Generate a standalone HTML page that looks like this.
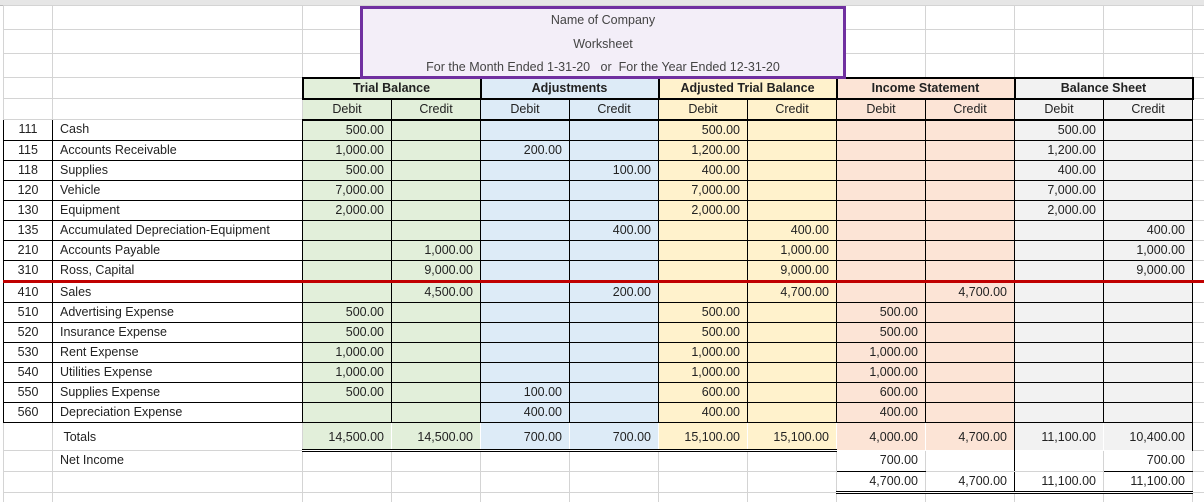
<!DOCTYPE html>
<html><head><meta charset="utf-8">
<style>
html,body{margin:0;padding:0;background:#fff;width:1204px;height:502px;overflow:hidden}
body{font-family:"Liberation Sans",sans-serif;font-size:12.5px;color:#222;position:relative}
#top{position:absolute;left:0;top:0;width:1204px;height:5px;background:#e6e6e6;border-bottom:1px solid #bbb}
table{position:absolute;left:3px;top:5px;border-collapse:collapse;table-layout:fixed;width:1210px}
td{border:1px solid #d4d4d4;padding:0 7px;white-space:nowrap;overflow:hidden;height:19px;line-height:19px}
td.b{border:1px solid #000}
td.n{text-align:right}
td.c{text-align:center}
.g{background:#e2efda}.bl{background:#ddebf7}.y{background:#fff2cc}.s{background:#fce4d6}.gr{background:#f2f2f2}
.h{font-weight:bold;text-align:center;border:2px solid #000 !important}
.hs{text-align:center;border:1px solid #000;border-bottom:2px solid #000 !important}
tr.red td{border-bottom:3px solid #c00000 !important}
.nb{border-color:transparent !important}
.dbl{border-bottom:3px double #000 !important}
#box{position:absolute;left:360px;top:6px;width:480px;height:67px;border:3px solid #7030a0;background:#f3eef8;color:#444;font-size:12.5px;text-align:center}
#box div{height:23.5px;line-height:22px}
</style></head><body>
<div id="top"></div>
<table>
<colgroup><col style="width:49px"><col style="width:250px"><col style="width:89px"><col style="width:89px"><col style="width:89px"><col style="width:89px"><col style="width:89px"><col style="width:89px"><col style="width:89px"><col style="width:89px"><col style="width:89px"><col style="width:89px"><col style="width:21px"></colgroup>
<tr style="height:24px"><td></td><td></td><td></td><td></td><td></td><td></td><td></td><td></td><td></td><td></td><td></td><td></td><td></td></tr>
<tr style="height:24px"><td></td><td></td><td></td><td></td><td></td><td></td><td></td><td></td><td></td><td></td><td></td><td></td><td></td></tr>
<tr style="height:24px"><td></td><td></td><td></td><td></td><td></td><td></td><td></td><td></td><td></td><td></td><td></td><td></td><td></td></tr>
<tr style="height:20px"><td></td><td></td><td colspan="2" class="h g">Trial Balance</td><td colspan="2" class="h bl">Adjustments</td><td colspan="2" class="h y">Adjusted Trial Balance</td><td colspan="2" class="h s">Income Statement</td><td colspan="2" class="h gr">Balance Sheet</td><td></td></tr>
<tr style="height:21px"><td></td><td></td><td class="hs g">Debit</td><td class="hs g">Credit</td><td class="hs bl">Debit</td><td class="hs bl">Credit</td><td class="hs y">Debit</td><td class="hs y">Credit</td><td class="hs s">Debit</td><td class="hs s">Credit</td><td class="hs gr">Debit</td><td class="hs gr">Credit</td><td></td></tr>
<tr><td class="b c">111</td><td class="b">Cash</td><td class="b n g">500.00</td><td class="b g"></td><td class="b bl"></td><td class="b bl"></td><td class="b n y">500.00</td><td class="b y"></td><td class="b s"></td><td class="b s"></td><td class="b n gr">500.00</td><td class="b gr"></td><td></td></tr>
<tr><td class="b c">115</td><td class="b">Accounts Receivable</td><td class="b n g">1,000.00</td><td class="b g"></td><td class="b n bl">200.00</td><td class="b bl"></td><td class="b n y">1,200.00</td><td class="b y"></td><td class="b s"></td><td class="b s"></td><td class="b n gr">1,200.00</td><td class="b gr"></td><td></td></tr>
<tr><td class="b c">118</td><td class="b">Supplies</td><td class="b n g">500.00</td><td class="b g"></td><td class="b bl"></td><td class="b n bl">100.00</td><td class="b n y">400.00</td><td class="b y"></td><td class="b s"></td><td class="b s"></td><td class="b n gr">400.00</td><td class="b gr"></td><td></td></tr>
<tr><td class="b c">120</td><td class="b">Vehicle</td><td class="b n g">7,000.00</td><td class="b g"></td><td class="b bl"></td><td class="b bl"></td><td class="b n y">7,000.00</td><td class="b y"></td><td class="b s"></td><td class="b s"></td><td class="b n gr">7,000.00</td><td class="b gr"></td><td></td></tr>
<tr><td class="b c">130</td><td class="b">Equipment</td><td class="b n g">2,000.00</td><td class="b g"></td><td class="b bl"></td><td class="b bl"></td><td class="b n y">2,000.00</td><td class="b y"></td><td class="b s"></td><td class="b s"></td><td class="b n gr">2,000.00</td><td class="b gr"></td><td></td></tr>
<tr><td class="b c">135</td><td class="b">Accumulated Depreciation-Equipment</td><td class="b g"></td><td class="b g"></td><td class="b bl"></td><td class="b n bl">400.00</td><td class="b y"></td><td class="b n y">400.00</td><td class="b s"></td><td class="b s"></td><td class="b gr"></td><td class="b n gr">400.00</td><td></td></tr>
<tr><td class="b c">210</td><td class="b">Accounts Payable</td><td class="b g"></td><td class="b n g">1,000.00</td><td class="b bl"></td><td class="b bl"></td><td class="b y"></td><td class="b n y">1,000.00</td><td class="b s"></td><td class="b s"></td><td class="b gr"></td><td class="b n gr">1,000.00</td><td></td></tr>
<tr class="red"><td class="b c">310</td><td class="b">Ross, Capital</td><td class="b g"></td><td class="b n g">9,000.00</td><td class="b bl"></td><td class="b bl"></td><td class="b y"></td><td class="b n y">9,000.00</td><td class="b s"></td><td class="b s"></td><td class="b gr"></td><td class="b n gr">9,000.00</td><td></td></tr>
<tr><td class="b c">410</td><td class="b">Sales</td><td class="b g"></td><td class="b n g">4,500.00</td><td class="b bl"></td><td class="b n bl">200.00</td><td class="b y"></td><td class="b n y">4,700.00</td><td class="b s"></td><td class="b n s">4,700.00</td><td class="b gr"></td><td class="b gr"></td><td></td></tr>
<tr><td class="b c">510</td><td class="b">Advertising Expense</td><td class="b n g">500.00</td><td class="b g"></td><td class="b bl"></td><td class="b bl"></td><td class="b n y">500.00</td><td class="b y"></td><td class="b n s">500.00</td><td class="b s"></td><td class="b gr"></td><td class="b gr"></td><td></td></tr>
<tr><td class="b c">520</td><td class="b">Insurance Expense</td><td class="b n g">500.00</td><td class="b g"></td><td class="b bl"></td><td class="b bl"></td><td class="b n y">500.00</td><td class="b y"></td><td class="b n s">500.00</td><td class="b s"></td><td class="b gr"></td><td class="b gr"></td><td></td></tr>
<tr><td class="b c">530</td><td class="b">Rent Expense</td><td class="b n g">1,000.00</td><td class="b g"></td><td class="b bl"></td><td class="b bl"></td><td class="b n y">1,000.00</td><td class="b y"></td><td class="b n s">1,000.00</td><td class="b s"></td><td class="b gr"></td><td class="b gr"></td><td></td></tr>
<tr><td class="b c">540</td><td class="b">Utilities Expense</td><td class="b n g">1,000.00</td><td class="b g"></td><td class="b bl"></td><td class="b bl"></td><td class="b n y">1,000.00</td><td class="b y"></td><td class="b n s">1,000.00</td><td class="b s"></td><td class="b gr"></td><td class="b gr"></td><td></td></tr>
<tr><td class="b c">550</td><td class="b">Supplies Expense</td><td class="b n g">500.00</td><td class="b g"></td><td class="b n bl">100.00</td><td class="b bl"></td><td class="b n y">600.00</td><td class="b y"></td><td class="b n s">600.00</td><td class="b s"></td><td class="b gr"></td><td class="b gr"></td><td></td></tr>
<tr><td class="b c">560</td><td class="b">Depreciation Expense</td><td class="b g"></td><td class="b g"></td><td class="b n bl">400.00</td><td class="b bl"></td><td class="b n y">400.00</td><td class="b y"></td><td class="b n s">400.00</td><td class="b s"></td><td class="b gr"></td><td class="b gr"></td><td></td></tr>
<tr style="height:28px"><td></td><td style="padding-top:3px">&nbsp;Totals</td><td class="n g nb dbl" style="padding-top:3px">14,500.00</td><td class="n g nb dbl" style="padding-top:3px">14,500.00</td><td class="n bl nb dbl" style="padding-top:3px">700.00</td><td class="n bl nb dbl" style="padding-top:3px">700.00</td><td class="n y nb dbl" style="padding-top:3px">15,100.00</td><td class="n y nb dbl" style="padding-top:3px">15,100.00</td><td class="n s nb" style="padding-top:3px">4,000.00</td><td class="n s nb" style="padding-top:3px;border-right:1px solid #000 !important">4,700.00</td><td class="n gr nb" style="padding-top:3px">11,100.00</td><td class="n gr nb" style="padding-top:3px;border-right:1px solid #000 !important">10,400.00</td><td></td></tr>
<tr><td></td><td>Net Income</td><td></td><td></td><td></td><td></td><td></td><td></td><td class="n" style="border-bottom:1px solid #000">700.00</td><td style="border-right:1px solid #000"></td><td></td><td class="n" style="border-bottom:1px solid #000">700.00</td><td></td></tr>
<tr><td></td><td></td><td></td><td></td><td></td><td></td><td></td><td></td><td class="n dbl">4,700.00</td><td class="n dbl" style="border-right:1px solid #000">4,700.00</td><td class="n dbl">11,100.00</td><td class="n dbl">11,100.00</td><td></td></tr>
<tr><td></td><td></td><td></td><td></td><td></td><td></td><td></td><td></td><td></td><td></td><td></td><td></td><td></td></tr>
</table>
<div id="box"><div>Name of Company</div><div>Worksheet</div><div>For the Month Ended 1-31-20 &nbsp;&nbsp;or &nbsp;For the Year Ended 12-31-20</div></div>
</body></html>
